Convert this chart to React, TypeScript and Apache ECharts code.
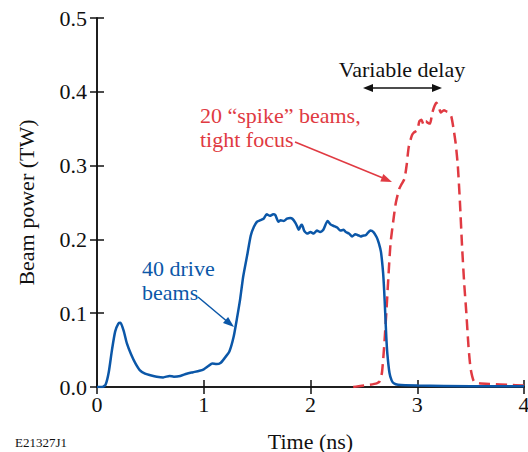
import React, { useEffect, useRef } from "react";
import * as echarts from "echarts";

const xTicks = [0, 1, 2, 3, 4];
const yTicks = [0, 0.1, 0.2, 0.3, 0.4, 0.5];

const driveTime = [0, 0.05, 0.08, 0.11, 0.14, 0.17, 0.2, 0.22, 0.25, 0.28, 0.32, 0.36, 0.4, 0.45, 0.5, 0.56, 0.62, 0.68, 0.72, 0.78, 0.84, 0.9, 0.96, 1.0, 1.04, 1.08, 1.12, 1.16, 1.2, 1.24, 1.28, 1.31, 1.34, 1.37, 1.41, 1.44, 1.47, 1.5, 1.53, 1.56, 1.59, 1.62, 1.65, 1.67, 1.7, 1.72, 1.75, 1.78, 1.81, 1.83, 1.86, 1.88, 1.89, 1.91, 1.92, 1.94, 1.97, 2.0, 2.03, 2.06, 2.09, 2.12, 2.16, 2.19, 2.22, 2.25, 2.28, 2.31, 2.33, 2.36, 2.39, 2.42, 2.44, 2.47, 2.49, 2.52, 2.56, 2.59, 2.62, 2.64, 2.66, 2.68, 2.69, 2.7, 2.71, 2.72, 2.74, 2.76, 2.78, 2.82, 3.0, 3.5, 4.0];
const drivePower = [0, 0, 0.003, 0.02, 0.05, 0.075, 0.086, 0.087, 0.076, 0.059, 0.044, 0.032, 0.023, 0.018, 0.016, 0.014, 0.013, 0.015, 0.014, 0.015, 0.018, 0.02, 0.022, 0.024, 0.028, 0.032, 0.031, 0.033, 0.04, 0.048, 0.068, 0.092, 0.118, 0.15, 0.181, 0.205, 0.217, 0.224, 0.226, 0.228, 0.234, 0.232, 0.234, 0.233, 0.224, 0.226, 0.225, 0.228, 0.229, 0.228, 0.222, 0.216, 0.213, 0.219, 0.22, 0.212, 0.208, 0.21, 0.208, 0.212, 0.21, 0.213, 0.225, 0.22, 0.218, 0.216, 0.212, 0.213, 0.21, 0.208, 0.204, 0.207, 0.206, 0.204, 0.205, 0.206, 0.212, 0.21, 0.203, 0.195, 0.183, 0.155, 0.131, 0.1, 0.068, 0.045, 0.019, 0.009, 0.005, 0.003, 0.002, 0.001, 0.001];

const spikeTime = [2.4, 2.45, 2.55, 2.62, 2.65, 2.67, 2.69, 2.71, 2.73, 2.75, 2.78, 2.8, 2.83, 2.85, 2.88, 2.9, 2.92, 2.95, 2.97, 3.0, 3.02, 3.04, 3.06, 3.08, 3.1, 3.12, 3.14, 3.16, 3.18, 3.2, 3.22, 3.25, 3.28, 3.3, 3.32, 3.34, 3.36, 3.38, 3.4, 3.42, 3.44, 3.46, 3.48, 3.5, 3.53, 3.58, 3.7, 3.85, 4.0];
const spikePower = [0, 0.001, 0.003, 0.005, 0.008, 0.02, 0.055, 0.1, 0.15, 0.195, 0.23, 0.25, 0.268, 0.274, 0.282, 0.3, 0.325, 0.341, 0.345, 0.348, 0.36, 0.362, 0.355, 0.36, 0.358, 0.357, 0.371, 0.38, 0.385, 0.38, 0.372, 0.375, 0.373, 0.372, 0.366, 0.35, 0.33, 0.3, 0.25, 0.19, 0.14, 0.1, 0.055, 0.025, 0.008, 0.005, 0.004, 0.003, 0.002];

const BLUE = "#0b57a8";
const RED = "#e03a42";
const FONT = "Liberation Serif";

function arrowHead(tip: number[], from: number[], len: number, half: number) {
  const dx = tip[0] - from[0];
  const dy = tip[1] - from[1];
  const n = Math.hypot(dx, dy);
  const ux = dx / n, uy = dy / n;
  const bx = tip[0] - ux * len, by = tip[1] - uy * len;
  return [tip, [bx - uy * half, by + ux * half], [bx + uy * half, by - ux * half]];
}

function label(text: string, x: number, baseline: number, color: string, size = 22, align = "left") {
  return {
    type: "text", x, y: baseline - size * 0.33,
    style: { text, fontFamily: FONT, fontSize: size, fill: color, align, verticalAlign: "middle" },
  };
}

export default function App() {
  const ref = useRef<HTMLDivElement>(null);
  useEffect(() => {
    document.body.style.margin = "0";
    if (!ref.current) return;
    const chart = echarts.init(ref.current, null, { renderer: "svg" });
    const axisLine = { show: true, lineStyle: { color: "#111", width: 1.5 } };
    const axisTick = { show: true, inside: true, length: 7, lineStyle: { color: "#111", width: 1.5 } };
    const redFrom = [295, 142], redTip = [392, 182];
    const blueFrom = [198, 297], blueTip = [234, 327];
    chart.setOption({
      animation: false,
      grid: { left: 97, right: 4, top: 18, bottom: 65, containLabel: false, outerBoundsMode: "none" },
      xAxis: [
        {
          type: "value", min: xTicks[0], max: xTicks[xTicks.length - 1], interval: 1,
          position: "bottom",
          name: "Time (ns)", nameLocation: "middle", nameGap: 43,
          nameTextStyle: { fontFamily: FONT, fontSize: 22, color: "#111" },
          axisLine, axisTick, splitLine: { show: false },
          axisLabel: { fontFamily: FONT, fontSize: 22, color: "#111", margin: 6, formatter: (v: number) => String(v) },
        },
        {
          type: "value", min: xTicks[0], max: xTicks[xTicks.length - 1], interval: 1,
          position: "top", axisLine, axisTick, splitLine: { show: false }, axisLabel: { show: false },
        },
      ],
      yAxis: [
        {
          type: "value", min: yTicks[0], max: yTicks[yTicks.length - 1], interval: 0.1,
          position: "left",
          name: "Beam power (TW)", nameLocation: "middle", nameGap: 60,
          nameTextStyle: { fontFamily: FONT, fontSize: 22, color: "#111" },
          axisLine, axisTick, splitLine: { show: false },
          axisLabel: { fontFamily: FONT, fontSize: 22, color: "#111", margin: 10, formatter: (v: number) => v.toFixed(1) },
        },
        {
          type: "value", min: yTicks[0], max: yTicks[yTicks.length - 1], interval: 0.1,
          position: "right", axisLine, axisTick, splitLine: { show: false }, axisLabel: { show: false },
        },
      ],
      series: [
        {
          type: "line", name: "40 drive beams",
          data: driveTime.map((t, i) => [t, drivePower[i]]),
          showSymbol: false, symbol: "none", smooth: 0.2,
          lineStyle: { color: BLUE, width: 2.5 }, z: 3,
        },
        {
          type: "line", name: "20 spike beams",
          data: spikeTime.map((t, i) => [t, spikePower[i]]),
          showSymbol: false, symbol: "none", smooth: 0.2,
          lineStyle: { color: RED, width: 2.5, type: [11, 6] }, z: 2,
        },
      ],
      graphic: [
        label("Variable delay", 402, 77, "#111", 22, "center"),
        { type: "line", shape: { x1: 368, y1: 88, x2: 437, y2: 88 }, style: { stroke: "#111", lineWidth: 1.5 } },
        { type: "polygon", shape: { points: arrowHead([363, 88], [441, 88], 10, 4) }, style: { fill: "#111" } },
        { type: "polygon", shape: { points: arrowHead([442, 88], [363, 88], 10, 4) }, style: { fill: "#111" } },
        label("20 \u201cspike\u201d beams,", 200, 123, RED),
        label("tight focus", 200, 147, RED),
        { type: "line", shape: { x1: redFrom[0], y1: redFrom[1], x2: redTip[0] - 6, y2: redTip[1] - 2.7 }, style: { stroke: RED, lineWidth: 1.5 } },
        { type: "polygon", shape: { points: arrowHead(redTip, redFrom, 11, 4) }, style: { fill: RED } },
        label("40 drive", 142, 276, BLUE),
        label("beams", 142, 300, BLUE),
        { type: "line", shape: { x1: blueFrom[0], y1: blueFrom[1], x2: blueTip[0] - 5, y2: blueTip[1] - 4 }, style: { stroke: BLUE, lineWidth: 1.5 } },
        { type: "polygon", shape: { points: arrowHead(blueTip, blueFrom, 11, 4) }, style: { fill: BLUE } },
        label("E21327J1", 15, 447, "#111", 13),
      ],
    });
    return () => chart.dispose();
  }, []);
  return <div ref={ref} style={{ width: 528, height: 452 }} />;
}
